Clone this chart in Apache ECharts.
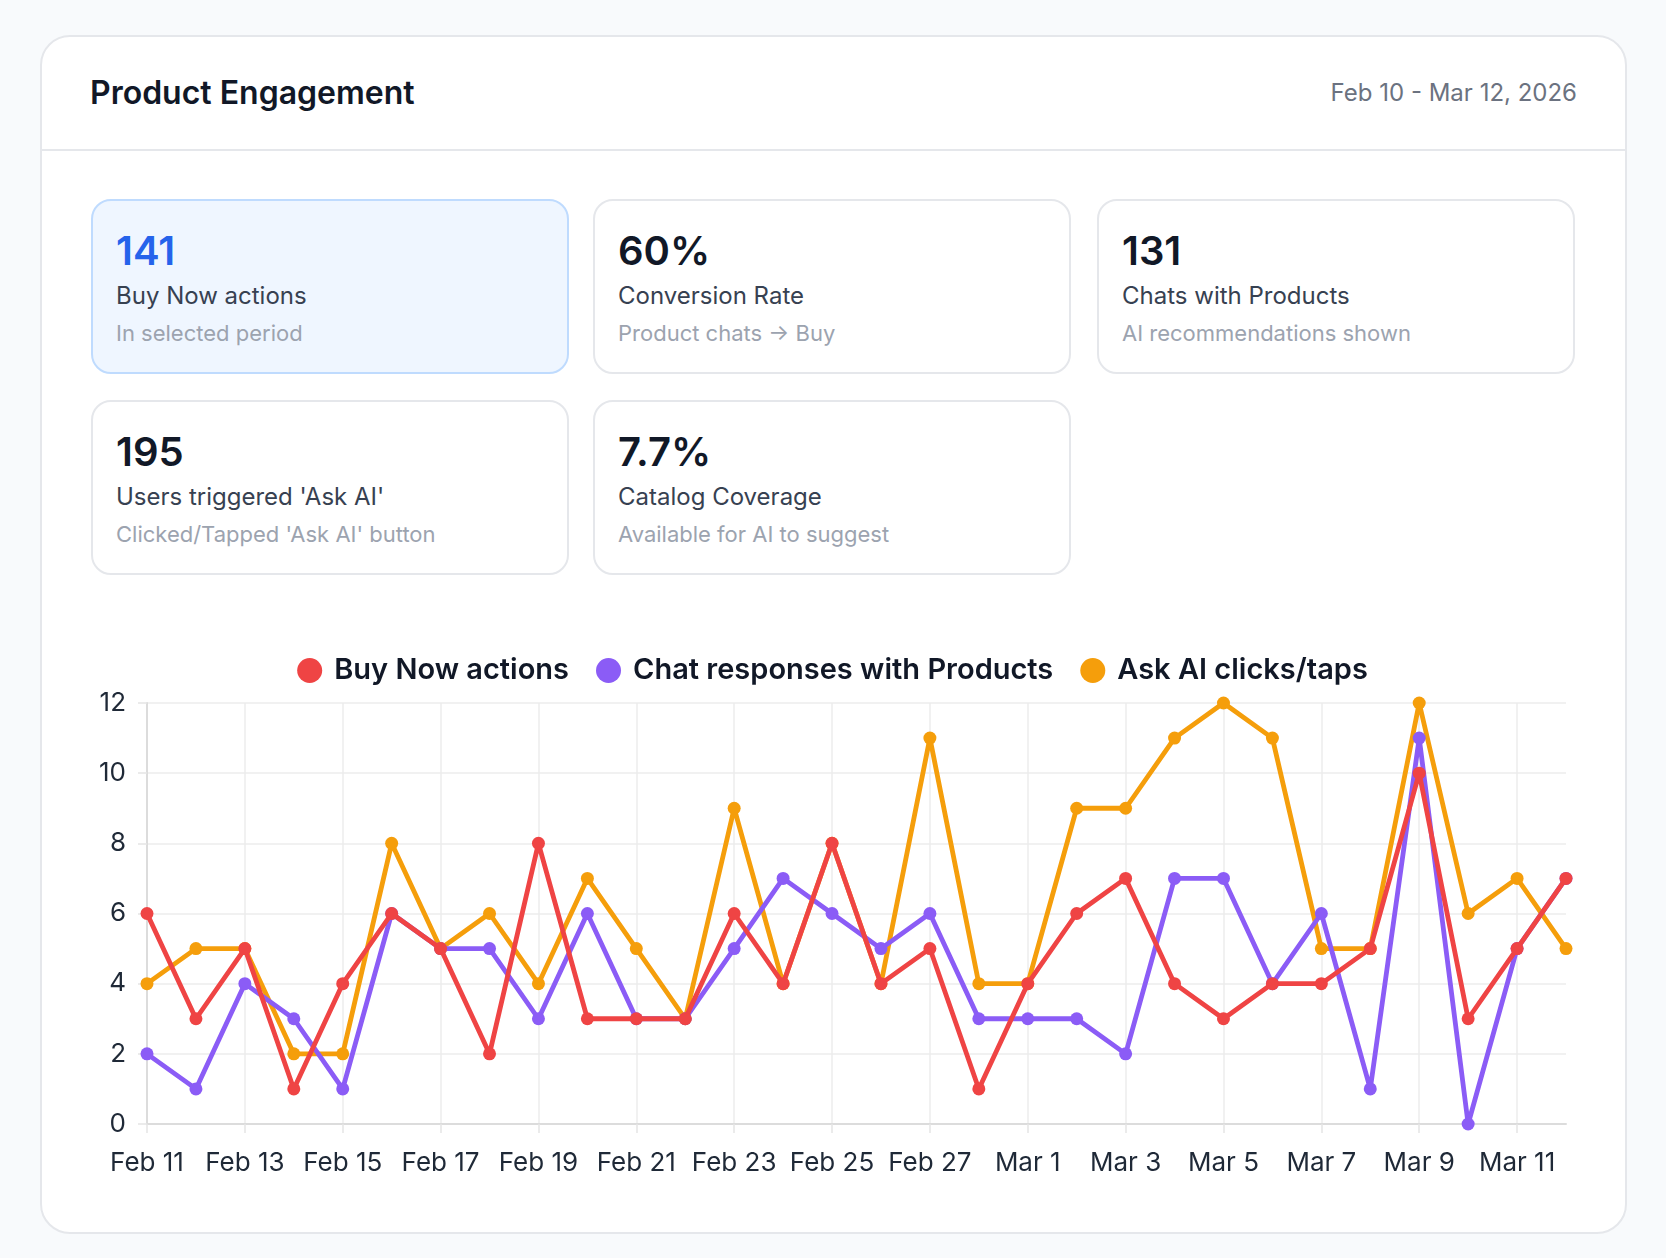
<!DOCTYPE html>
<html>
<head>
<meta charset="utf-8">
<title>Product Engagement</title>
<script src="https://cdn.jsdelivr.net/npm/echarts@6/dist/echarts.min.js"></script>
<style>
html,body{margin:0;padding:0;background:#f8fafc;font-family:Inter,"Noto Sans",sans-serif;}
.page{position:relative;width:1666px;height:1258px;}
.panel{position:absolute;left:40px;top:35px;width:1583px;height:1195px;background:#fff;border:2px solid #e5e7eb;border-radius:30px;}
.head{position:absolute;left:0;top:0;right:0;height:112px;border-bottom:2px solid #e5e7eb;}
.head h1{position:absolute;left:48px;top:35px;margin:0;font-size:32px;line-height:42px;font-weight:600;color:#111827;}
.head .range{position:absolute;right:48px;top:40px;font-size:24px;line-height:32px;color:#6b7280;}
.stat{position:absolute;width:474px;height:171px;border:2px solid #e5e7eb;border-radius:20px;background:#fff;box-sizing:content-box;}
.stat.active{background:#eff6ff;border-color:#bfdbfe;}
.stat .num{position:absolute;left:23px;top:26px;font-size:40px;line-height:48px;font-weight:600;color:#111827;}
.stat.active .num{color:#2563eb;}
.stat .lbl{position:absolute;left:23px;top:80px;font-size:24px;line-height:30px;color:#374151;}
.stat .sub{position:absolute;left:23px;top:118px;font-size:22px;line-height:28px;color:#9ca3af;}
#chart{position:absolute;left:40px;top:600px;width:1585px;height:630px;}
</style>
</head>
<body>
<div class="page">
  <div class="panel">
    <div class="head">
      <h1>Product Engagement</h1>
      <div class="range">Feb 10 - Mar 12, 2026</div>
    </div>
  </div>
  <div id="stats"></div>
  <div id="chart"></div>
</div>
<script>
// 日期（每天一个点）
var days = ["Feb 11","Feb 12","Feb 13","Feb 14","Feb 15","Feb 16","Feb 17","Feb 18","Feb 19","Feb 20",
            "Feb 21","Feb 22","Feb 23","Feb 24","Feb 25","Feb 26","Feb 27","Feb 28","Mar 1","Mar 2",
            "Mar 3","Mar 4","Mar 5","Mar 6","Mar 7","Mar 8","Mar 9","Mar 10","Mar 11","Mar 12"];
var buyNow =    [6,3,5,1,4,6,5,2,8,3, 3,3,6,4,8,4,5,1,4,6, 7,4,3,4,4,5,10,3,5,7];
var chatResp =  [2,1,4,3,1,6,5,5,3,6, 3,3,5,7,6,5,6,3,3,3, 2,7,7,4,6,1,11,0,5,7];
var askAi =     [4,5,5,2,2,8,5,6,4,7, 5,3,9,4,8,4,11,4,4,9, 9,11,12,11,5,5,12,6,7,5];
var yTicks = [0,2,4,6,8,10,12];

var statNums = ["141","60%","131","195","7.7%"];
var statLabels = ["Buy Now actions","Conversion Rate","Chats with Products","Users triggered 'Ask AI'","Catalog Coverage"];
var statSubs = ["In selected period","Product chats \u2192 Buy","AI recommendations shown","Clicked/Tapped 'Ask AI' button","Available for AI to suggest"];

function drawStats(el){
	var lefts=[91,593,1097];
	var tops=[199,400];
	var html="";
	for(var i=0;i<statNums.length;i++){
		var col=i%3, row=Math.floor(i/3);
		html+='<div class="stat'+(i==0?' active':'')+'" style="left:'+lefts[col]+'px;top:'+tops[row]+'px">'
			+'<div class="num">'+statNums[i]+'</div>'
			+'<div class="lbl">'+statLabels[i]+'</div>'
			+'<div class="sub">'+statSubs[i]+'</div></div>';
	}
	el.innerHTML=html;
}
drawStats(document.getElementById("stats"));

function lineSerie(name,data,color,z){
	return {
		name:name,
		type:"line",
		data:data,
		z:z,
		symbol:"circle",
		symbolSize:13,
		lineStyle:{width:4.8,color:color},
		itemStyle:{color:color},
		emphasis:{disabled:true}
	};
}

var myChart = echarts.init(document.getElementById("chart"));
var option = {
	animation:false,
	textStyle:{fontFamily:"Inter"},
	legend:{
		top:51,
		left:"center",
		icon:"circle",
		itemWidth:25,
		itemHeight:25,
		itemGap:27,
		textStyle:{fontSize:29,fontWeight:600,color:"#111827",padding:[0,0,0,7]},
		data:["Buy Now actions","Chat responses with Products","Ask AI clicks/taps"]
	},
	grid:{left:107,right:59,top:103,bottom:106},
	xAxis:{
		type:"category",
		boundaryGap:false,
		data:days,
		axisLine:{lineStyle:{color:"#dcdcdc",width:2}},
		axisTick:{show:true,interval:1,length:9,lineStyle:{color:"#e5e5e5",width:1.5}},
		axisLabel:{interval:1,fontSize:26,color:"#1f2937",margin:26},
		splitLine:{show:true,interval:1,lineStyle:{color:"#ececec",width:1.5}}
	},
	yAxis:{
		type:"value",
		min:yTicks[0],
		max:yTicks[yTicks.length-1],
		interval:2,
		axisLine:{show:true,lineStyle:{color:"#dcdcdc",width:2}},
		axisTick:{show:true,length:9,lineStyle:{color:"#e5e5e5",width:1.5}},
		axisLabel:{fontSize:26,color:"#1f2937",margin:21},
		splitLine:{lineStyle:{color:"#ececec",width:1.5}}
	},
	series:[
		lineSerie("Buy Now actions",buyNow,"#ef4444",4),
		lineSerie("Chat responses with Products",chatResp,"#8b5cf6",3),
		lineSerie("Ask AI clicks/taps",askAi,"#f59e0b",2)
	]
};
myChart.setOption(option);
</script>
</body>
</html>
